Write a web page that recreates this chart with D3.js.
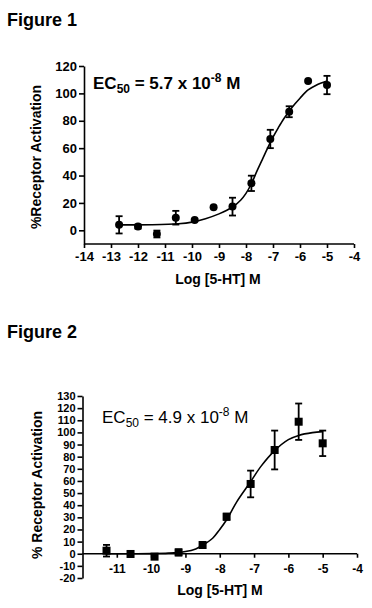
<!DOCTYPE html>
<html>
<head>
<meta charset="utf-8">
<script src="https://cdn.jsdelivr.net/npm/d3@7"></script>
<style>
  body { margin: 0; background: #fff; }
  svg { display: block; font-family: "Liberation Sans", Arial, Helvetica, sans-serif; }
</style>
</head>
<body>
<div id="chart"></div>
<script>
// Figure 1 - circles
const fig1Dose = [-12.7, -12, -11.3, -10.6, -9.9, -9.2, -8.5, -7.8, -7.1, -6.4, -5.7, -5];
const fig1Response = [4, 2.7, -2.7, 9.2, 7.5, 16.8, 17.3, 34.3, 66.7, 86.6, 109.1, 106.1];
const fig1Error = [6.3, 1.5, 2.5, 5, 0, 0, 6.5, 5.6, 6.7, 4, 0, 6.7];
const fig1CurveX = [-12.7, -11.5, -10.5, -10, -9.5, -9, -8.5, -8.2, -8, -7.8, -7.6, -7.4, -7.2, -7, -6.8, -6.6, -6.4, -6.2, -6, -5.7, -5.4, -5];
const fig1CurveY = [4, 4.1, 4.8, 6, 8.5, 12, 17, 22, 27, 34, 43, 51.5, 60, 68, 75, 81.5, 87, 92, 96.5, 102.5, 106, 109];
const fig1XTicks = [-14, -13, -12, -11, -10, -9, -8, -7, -6, -5, -4];
const fig1YTicks = [0, 20, 40, 60, 80, 100, 120];

// Figure 2 - squares
const fig2Dose = [-11.3, -10.6, -9.9, -9.2, -8.5, -7.8, -7.1, -6.4, -5.7, -5];
const fig2Response = [2.5, -0.2, -2.4, 1.1, 7.2, 30.5, 57.5, 85.5, 108.8, 91];
const fig2Error = [4.8, 1, 0, 2.5, 0, 2.5, 11, 16, 15, 10.5];
const fig2CurveX = [-11.3, -10.5, -10, -9.5, -9, -8.7, -8.5, -8.2, -8, -7.8, -7.5, -7.1, -6.8, -6.4, -6, -5.7, -5.3, -5];
const fig2CurveY = [0, 0, 0.1, 0.5, 1.8, 4, 7, 13, 20, 28, 43, 59.4, 72, 85, 94, 97.5, 99.8, 100.6];
const fig2XTicks = [-11, -10, -9, -8, -7, -6, -5, -4];
const fig2YTicks = d3.range(-20, 131, 10);

const width = 372;
const height = 608;

const svg = d3.select("#chart")
  .append("svg")
  .attr("width", width)
  .attr("height", height);

// plain hyphen minus, like the original
const fmt = d => String(d);

function drawPanel(opts) {
  const x = d3.scaleLinear().domain(opts.xDomain).range(opts.xRange);
  const y = d3.scaleLinear().domain(opts.yDomain).range(opts.yRange);
  const g = svg.append("g");

  // title
  g.append("text")
    .attr("x", 7)
    .attr("y", opts.titleY)
    .style("font-size", "18px")
    .style("font-weight", "bold")
    .text(opts.title);

  // x axis
  const xAxisY = opts.xAxisAtZero ? y(0) : opts.yRange[0];
  const xAxis = g.append("g")
    .attr("transform", `translate(0,${xAxisY})`)
    .call(d3.axisBottom(x).tickValues(opts.xTicks).tickFormat(fmt)
      .tickSize(4).tickSizeOuter(0).tickPadding(opts.xPad));
  xAxis.selectAll("text")
    .style("font-size", opts.xTickFont)
    .style("font-weight", "bold")
    .style("fill", "#000");
  xAxis.select(".domain")
    .attr("d", `M${opts.xRange[0]},0H${opts.xRange[1]}`);

  // y axis
  const yAxis = g.append("g")
    .attr("transform", `translate(${opts.xRange[0]},0)`)
    .call(d3.axisLeft(y).tickValues(opts.yTicks).tickFormat(fmt)
      .tickSize(5).tickSizeOuter(0).tickPadding(2));
  yAxis.selectAll("text")
    .style("font-size", opts.yTickFont)
    .style("font-weight", "bold")
    .style("fill", "#000");

  svg.selectAll(".domain, .tick line")
    .attr("stroke", "#000")
    .attr("stroke-width", 1.6);

  // axis titles
  g.append("text")
    .attr("x", opts.xTitleX)
    .attr("y", opts.xTitleY)
    .attr("text-anchor", "middle")
    .style("font-size", "14px")
    .style("font-weight", "bold")
    .text("Log [5-HT] M");

  g.append("text")
    .attr("transform", `translate(${opts.yTitleX},${opts.yTitleY}) rotate(-90)`)
    .attr("text-anchor", "middle")
    .style("font-size", "14px")
    .style("font-weight", "bold")
    .text(opts.yTitle);

  // EC50 label
  const ec = g.append("text")
    .attr("x", opts.ecX)
    .attr("y", opts.ecY)
    .style("font-size", "17px")
    .style("font-weight", opts.ecWeight);
  ec.append("tspan").text("EC");
  ec.append("tspan").attr("dy", 4).style("font-size", "12px").text("50");
  ec.append("tspan").attr("dy", -4).text(opts.ecValue);
  ec.append("tspan").attr("dy", -7).style("font-size", "12px").text("-8");
  ec.append("tspan").attr("dy", 7).text(" M");

  // fit curve
  const curve = opts.curveX.map((d, i) => [d, opts.curveY[i]]);
  g.append("path")
    .datum(curve)
    .attr("fill", "none")
    .attr("stroke", "#000")
    .attr("stroke-width", 1.6)
    .attr("d", d3.line().x(d => x(d[0])).y(d => y(d[1])).curve(d3.curveCatmullRom.alpha(0.5)));

  const points = opts.dose.map((d, i) => ({ x: d, y: opts.response[i], e: opts.error[i] }));

  // error bars
  const bars = g.selectAll(".err")
    .data(points.filter(d => d.e > 0))
    .enter()
    .append("g")
    .attr("class", "err")
    .attr("stroke", "#000")
    .attr("stroke-width", 1.8);
  bars.append("line")
    .attr("x1", d => x(d.x)).attr("x2", d => x(d.x))
    .attr("y1", d => y(d.y - d.e)).attr("y2", d => y(d.y + d.e));
  bars.append("line")
    .attr("x1", d => x(d.x) - 3.5).attr("x2", d => x(d.x) + 3.5)
    .attr("y1", d => y(d.y + d.e)).attr("y2", d => y(d.y + d.e));
  bars.append("line")
    .attr("x1", d => x(d.x) - 3.5).attr("x2", d => x(d.x) + 3.5)
    .attr("y1", d => y(d.y - d.e)).attr("y2", d => y(d.y - d.e));

  // markers
  if (opts.marker === "circle") {
    g.selectAll(".pt")
      .data(points)
      .enter()
      .append("circle")
      .attr("class", "pt")
      .attr("cx", d => x(d.x))
      .attr("cy", d => y(d.y))
      .attr("r", 4)
      .attr("fill", "#000");
  } else {
    g.selectAll(".pt")
      .data(points)
      .enter()
      .append("rect")
      .attr("class", "pt")
      .attr("x", d => x(d.x) - 4)
      .attr("y", d => y(d.y) - 4)
      .attr("width", 8)
      .attr("height", 8)
      .attr("fill", "#000");
  }
}

drawPanel({
  title: "Figure 1",
  titleY: 26,
  xDomain: [-14, -4], xRange: [84, 354],
  yDomain: [-10, 120], yRange: [244, 66],
  xTicks: fig1XTicks, yTicks: fig1YTicks,
  xAxisAtZero: false, xPad: 4,
  xTickFont: "13px", yTickFont: "13px",
  xTitleX: 218, xTitleY: 284,
  yTitle: "%Receptor Activation", yTitleX: 41, yTitleY: 157,
  ecX: 93, ecY: 89, ecWeight: "bold", ecValue: " = 5.7 x 10",
  curveX: fig1CurveX, curveY: fig1CurveY,
  dose: fig1Dose, response: fig1Response, error: fig1Error,
  marker: "circle"
});

drawPanel({
  title: "Figure 2",
  titleY: 338,
  xDomain: [-12, -4], xRange: [82.5, 357],
  yDomain: [-20, 130], yRange: [578, 396],
  xTicks: fig2XTicks, yTicks: fig2YTicks,
  xAxisAtZero: true, xPad: 7,
  xTickFont: "12px", yTickFont: "11px",
  xTitleX: 220, xTitleY: 595,
  yTitle: "% Receptor Activation", yTitleX: 42, yTitleY: 485,
  ecX: 102, ecY: 423, ecWeight: "normal", ecValue: " = 4.9 x 10",
  curveX: fig2CurveX, curveY: fig2CurveY,
  dose: fig2Dose, response: fig2Response, error: fig2Error,
  marker: "square"
});
</script>
</body>
</html>
